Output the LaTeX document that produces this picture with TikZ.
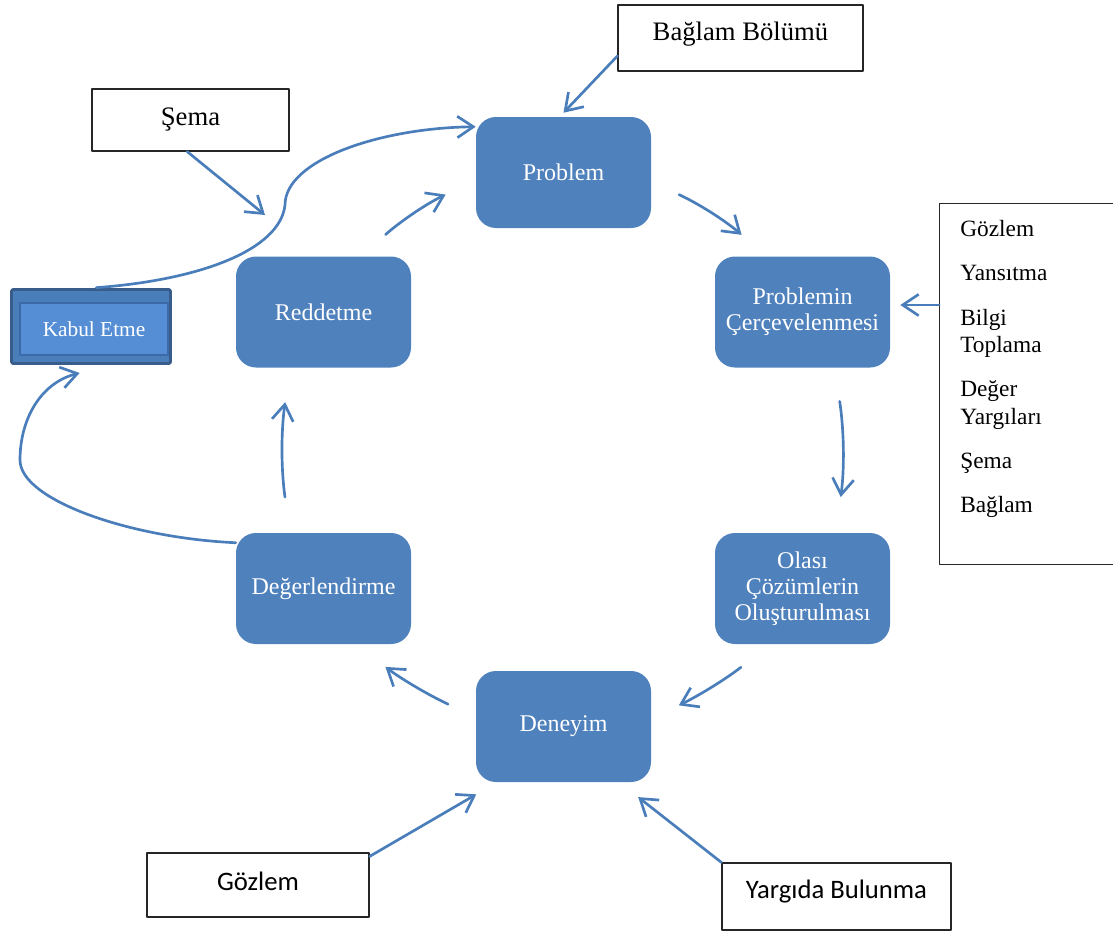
\documentclass[tikz,border=0pt]{standalone}
\usepackage{fontspec}
\setmainfont{Liberation Serif}
\newfontfamily\calibrifont{Carlito}
\usetikzlibrary{arrows.meta, calc}
\definecolor{boxblue}{HTML}{4F81BD}
\definecolor{arrowblue}{HTML}{4A7EBB}
\definecolor{kabuldark}{HTML}{385D8A}
\definecolor{kabulmid}{HTML}{4A7EBB}
\definecolor{kabullight}{HTML}{558ED5}
\definecolor{kabuledge}{HTML}{3C6AA8}

\begin{document}
\begin{tikzpicture}[x=0.75pt, y=-0.75pt, >={Straight Barb[length=12pt,width=16pt]},
	line cap=round, line join=round,
	stage/.style={fill=boxblue, rounded corners=15pt, minimum width=131.25pt, minimum height=83.25pt,
		text=white, align=center, inner sep=0pt, font=\fontsize{18pt}{19.5pt}\selectfont},
	note/.style={draw=black!85, line width=0.9pt, fill=white, inner sep=0pt,
		font=\fontsize{20pt}{24pt}\selectfont},
	flow/.style={->, arrowblue, line width=2pt}]
\useasboundingbox (0,0) rectangle (1113,931);
%========================
% cycle of stages
%========================
\node[stage] (prob)   at (563.5,172.5) {Problem};
\node[stage] (cerc)   at (802.5,312)   {Problemin\\Çerçevelenmesi};
\node[stage] (olasi)  at (802.5,588.5) {Olası\\Çözümlerin\\Oluşturulması};
\node[stage] (den)    at (563.5,726.5) {Deneyim};
\node[stage] (degerl) at (323.5,588.5) {Değerlendirme};
\node[stage] (redd)   at (323.5,312)   {Reddetme};

% Kabul Etme (framed box)
\node[draw=kabuldark, line width=2.2pt, fill=kabulmid, rounded corners=1.5pt,
	minimum width=119.25pt, minimum height=55.5pt] (kabulframe) at (91,326.5) {};
\node[draw=kabuledge, line width=0.8pt, fill=kabullight, minimum width=111pt, minimum height=39pt,
	inner sep=0pt, text=white, font=\fontsize{16pt}{19pt}\selectfont] (kabul) at (94,329) {Kabul Etme};

%========================
% notes
%========================
\node[note, minimum width=183.75pt, minimum height=49.5pt, text depth=10.5pt] (bb) at (740.5,38) {Bağlam Bölümü};
\node[note, minimum width=147.75pt, minimum height=46.5pt] (sema) at (190.5,120) {Şema};
\node[note, minimum width=166.5pt, minimum height=48pt, text depth=5pt, font=\calibrifont\fontsize{20pt}{24pt}\selectfont] (gozlem) at (258,885) {Gözlem};
\node[note, minimum width=171.75pt, minimum height=50.25pt, text depth=11.5pt, font=\calibrifont\fontsize{20pt}{24pt}\selectfont] (yargi) at (836.5,896.5) {Yargıda Bulunma};

% list on the right
\node[note, anchor=north west, minimum width=139.5pt, minimum height=270.75pt] (list) at (939,203) {};
\node[anchor=north west, inner sep=0pt, align=left, font=\fontsize{17.5pt}{20.5pt}\selectfont] (listtext) at (960,220)
	{Gözlem\\[12.75pt]Yansıtma\\[12.75pt]Bilgi\\Toplama\\[12.75pt]Değer\\Yargıları\\[12.75pt]Şema\\[12.75pt]Bağlam};

%========================
% arrows
%========================
% cycle (all bent outwards)
\draw[flow, shorten <=23pt, shorten >=24.5pt] (prob.354.5) to[bend left=8] (cerc.123.5);
\draw[flow, shorten <=25.5pt, shorten >=27pt] (cerc.300) to[bend left=8] (olasi.59.6);
\draw[flow, shorten <=28pt, shorten >=23pt] (olasi.240) to[bend left=6] (den.5.5);
\draw[flow, shorten <=23pt, shorten >=28pt] (den.174.5) to[bend left=6] (degerl.300);
\draw[flow, shorten <=27pt, shorten >=26pt] (degerl.121) to[bend left=8] (redd.239);
\draw[flow, shorten <=24.5pt, shorten >=25pt] (redd.56.5) to[bend left=8] (prob.185.5);

% Kabul Etme in and out
\draw[flow] ([yshift=-7.5pt]degerl.north west) .. controls (130,538) and (20,500) .. (20,460)
	.. controls (20,420) and (40,383) .. ([xshift=-8.5pt,yshift=-6pt]kabulframe.south);
\draw[flow, shorten <=4pt] (kabulframe.north) .. controls (200,280) and (280,250) .. (285,205)
	.. controls (285,160) and (380,128) .. ([yshift=-7.5pt]prob.north west);

% notes into the cycle
\coordinate (semaTip) at (265,215);
\draw[flow] ([xshift=-2.5pt]sema.south) -- (semaTip);
\draw[flow] ([yshift=-13.5pt]bb.west) -- ([yshift=3pt]prob.north);
\draw[flow, shorten >=7.5pt] ([yshift=5.25pt]cerc.east -| list.west) -- ([yshift=5.25pt]cerc.east);
\draw[flow, shorten >=18pt] ([yshift=-3pt]gozlem.north east) -- (den.220.3);
\draw[flow, shorten >=18pt] (yargi.north west) -- (den.315);
\end{tikzpicture}
\end{document}
